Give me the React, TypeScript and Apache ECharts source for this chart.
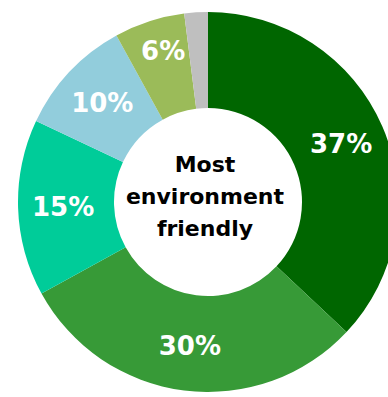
import React, { useEffect, useRef } from "react";
import * as echarts from "echarts";

const categories = ["A", "B", "C", "D", "E", "F"];
const values = [37, 30, 15, 10, 6, 2];
const labels = ["37%", "30%", "15%", "10%", "6%", ""];
const colors = ["#006600", "#379A37", "#00CC99", "#92CDDC", "#9BBB59", "#BFBFBF"];
const centerLines = ["Most", "environment", "friendly"];

export default function App() {
  const ref = useRef<HTMLDivElement>(null);
  useEffect(() => {
    const chart = echarts.init(ref.current!, null, { renderer: "svg" });
    chart.setOption({
      animation: false,
      graphic: [
        {
          type: "text",
          x: 205,
          y: 196,
          z: 100,
          style: {
            text: centerLines.join("\n"),
            textAlign: "center",
            textVerticalAlign: "middle",
            fontFamily: "DejaVu Sans",
            fontWeight: "bold",
            fontSize: 22,
            lineHeight: 32,
            fill: "#000",
          },
        },
      ],
      series: [
        {
          type: "pie",
          center: [208, 202],
          radius: [94, 190],
          startAngle: 90,
          clockwise: true,
          label: {
            show: true,
            position: "inside",
            formatter: (p: any) => labels[p.dataIndex],
            color: "#fff",
            fontFamily: "DejaVu Sans",
            fontWeight: "bold",
            fontSize: 26,
          },
          labelLine: { show: false },
          labelLayout: (p: any) => (p.dataIndex === 4 ? { dy: -13 } : {}),
          itemStyle: { borderWidth: 0 },
          emphasis: { disabled: true },
          data: categories.map((c, i) => ({
            name: c,
            value: values[i],
            itemStyle: { color: colors[i] },
          })),
        },
      ],
    });
    return () => chart.dispose();
  }, []);
  return (
    <div
      ref={ref}
      style={{ position: "absolute", left: 0, top: 0, width: 388, height: 397 }}
    />
  );
}
